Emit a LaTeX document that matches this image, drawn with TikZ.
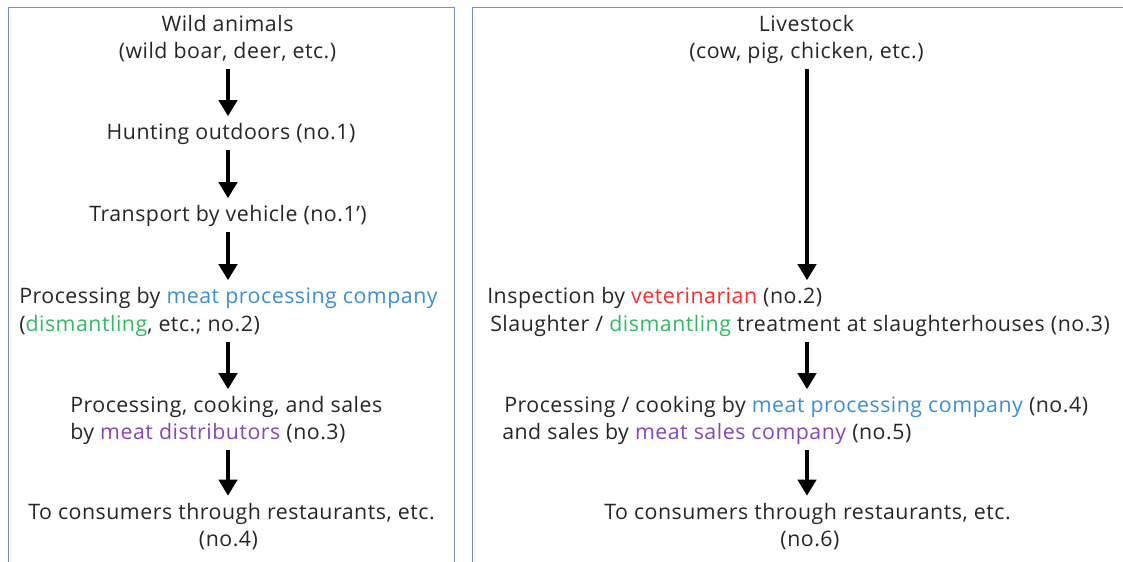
\documentclass[tikz,border=0pt]{standalone}
\usepackage{fontspec}
\setmainfont{Open Sans}[LetterSpace=2.4]
\usetikzlibrary{arrows.meta}
\definecolor{ink}{HTML}{262626}
\definecolor{frame}{HTML}{7891B6}
\definecolor{mpc}{HTML}{3B8ED3}
\definecolor{dis}{HTML}{33B864}
\definecolor{msc}{HTML}{8446B8}
\definecolor{vet}{HTML}{FF2B2B}
\begin{document}
\begin{tikzpicture}[x=0.75pt,y=-0.75pt,
  txt/.style={inner sep=0pt, text height=11.25pt, text depth=3pt,
    font=\fontsize{16}{20}\selectfont, text=ink},
  flow/.style={-{Triangle[width=13.5pt,length=12pt]}, line width=3.6pt,
    shorten <=5pt, shorten >=6pt},
  panel/.style={draw=frame, line width=1.4pt}]
\useasboundingbox (0,0) rectangle (1123,561);
\clip (0,0) rectangle (1123,561);
% two panels, open at the bottom edge
\draw[panel] (8.5,7.5) rectangle (454.5,590);
\draw[panel] (472.5,7.5) rectangle (1140,590);
% arrow axes
\coordinate (axL) at (228,0);
\coordinate (axR) at (807,0);
% wild animals chain
\node[txt,anchor=base] (w1) at (227.5,31.5) {Wild animals};
\node[txt,anchor=base] (w2) at (227.5,58.5) {(wild boar, deer, etc.)};
\node[txt,anchor=base] (hunt) at (231,139.5) {Hunting outdoors (no.1)};
\node[txt,anchor=base] (trans) at (228,221.5) {Transport by vehicle (no.1’)};
\node[txt,anchor=base west] (pa) at (19,303.5) {Processing by \textcolor{mpc}{meat processing company}};
\node[txt,anchor=base west] (pb) at (19,331.5) {(\textcolor{dis}{dismantling}, etc.; no.2)};
\node[txt,anchor=base west] (da) at (70,412.5) {Processing, cooking, and sales};
\node[txt,anchor=base west] (db) at (70,439.5) {by \textcolor{msc}{meat distributors} (no.3)};
\node[txt,anchor=base] (ca) at (231.5,519) {To consumers through restaurants, etc.};
\node[txt,anchor=base] (cb) at (228.5,546) {(no.4)};
\draw[flow] (w2.south -| axL) -- (hunt.north -| axL);
\draw[flow] (hunt.south -| axL) -- (trans.north -| axL);
\draw[flow] (trans.south -| axL) -- (pa.north -| axL);
\draw[flow] (pb.south -| axL) -- (da.north -| axL);
\draw[flow] (db.south -| axL) -- (ca.north -| axL);
% livestock chain
\node[txt,anchor=base] (l1) at (806.5,31.5) {Livestock};
\node[txt,anchor=base] (l2) at (806.5,58.5) {(cow, pig, chicken, etc.)};
\node[txt,anchor=base west] (ia) at (487,303.5) {Inspection by \textcolor{vet}{veterinarian} (no.2)};
\node[txt,anchor=base west] (ib) at (490,331.5) {Slaughter / \textcolor{dis}{dismantling} treatment at slaughterhouses (no.3)};
\node[txt,anchor=base west] (ka) at (504,412.5) {Processing / cooking by \textcolor{mpc}{meat processing company} (no.4)};
\node[txt,anchor=base west] (kb) at (502,439.5) {and sales by \textcolor{msc}{meat sales company} (no.5)};
\node[txt,anchor=base] (ra) at (807.5,519) {To consumers through restaurants, etc.};
\node[txt,anchor=base] (rb) at (810,546) {(no.6)};
\draw[flow] (l2.south -| axR) -- (ia.north -| axR);
\draw[flow] (ib.south -| axR) -- (ka.north -| axR);
\draw[flow] (kb.south -| axR) -- (ra.north -| axR);
\end{tikzpicture}
\end{document}
